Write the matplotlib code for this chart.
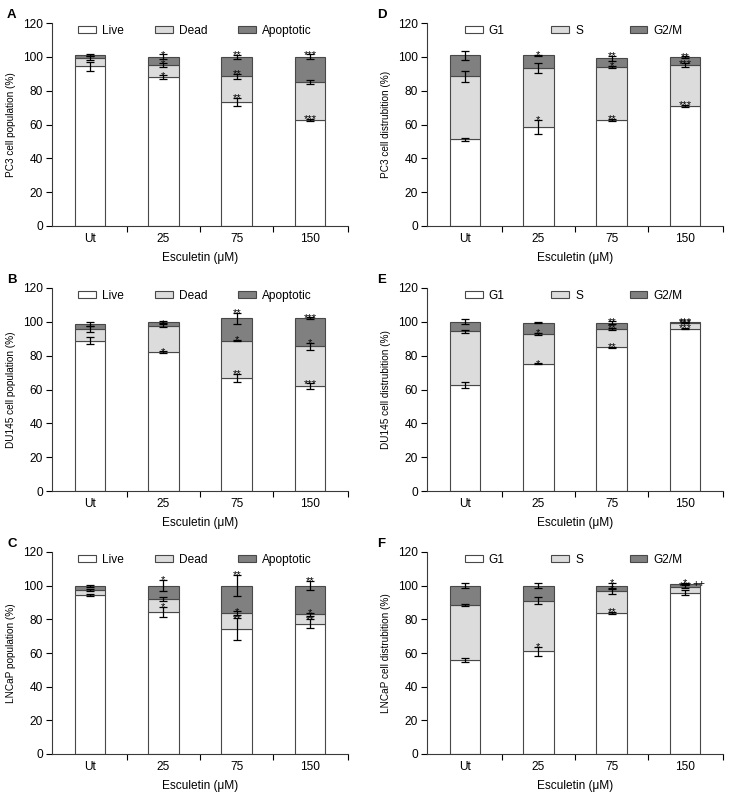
import matplotlib
matplotlib.use('Agg')
import matplotlib.pyplot as plt
import numpy as np

plt.rcParams['font.family'] = ['Liberation Sans', 'DejaVu Sans']
plt.rcParams['font.size'] = 8.6

cats = ['Ut', '25', '75', '150']
pop_labels = ['Live', 'Dead', 'Apoptotic']
cyc_labels = ['G1', 'S', 'G2/M']

# A: PC3 cell population
pc3_live = [94.4, 87.9, 73.4, 62.6]
pc3_dead = [5.0, 7.3, 15.1, 22.7]
pc3_apop = [1.6, 4.8, 11.5, 14.7]
pc3_live_err = [2.8, 1.2, 2.2, 0.6]
pc3_dead_err = [1.2, 1.0, 1.5, 1.3]
pc3_apop_err = [0.8, 1.5, 1.3, 1.4]
pc3_live_sig = ['', '*', '**', '***']
pc3_dead_sig = ['', '*', '**', '']
pc3_apop_sig = ['', '*', '**', '***']

# B: DU145 cell population
du_live = [88.9, 82.1, 66.8, 62.0]
du_dead = [6.9, 15.7, 22.1, 23.5]
du_apop = [3.0, 2.2, 13.1, 16.5]
du_live_err = [2.2, 0.4, 2.3, 1.6]
du_dead_err = [1.8, 1.0, 0.5, 2.0]
du_apop_err = [1.0, 0.5, 3.2, 0.6]
du_live_sig = ['', '*', '**', '***']
du_dead_sig = ['', '*', '*', '*']
du_apop_sig = ['', '', '**', '***']

# C: LNCaP population
ln_live = [94.4, 84.4, 74.1, 77.3]
ln_dead = [3.2, 7.6, 9.6, 5.6]
ln_apop = [2.4, 8.0, 16.3, 17.1]
ln_live_err = [0.6, 3.0, 6.4, 2.7]
ln_dead_err = [0.6, 1.0, 1.0, 1.0]
ln_apop_err = [0.6, 3.3, 6.4, 2.8]
ln_live_sig = ['', '*', '**', '**']
ln_dead_sig = ['', '', '*', '*']
ln_apop_sig = ['', '*', '**', '**']

# D: PC3 cell distribution
pc3_g1 = [51.3, 58.6, 62.6, 71.0]
pc3_s = [37.2, 34.8, 31.4, 24.2]
pc3_g2m = [12.3, 7.4, 5.2, 4.6]
pc3_g1_err = [0.8, 4.2, 0.6, 0.6]
pc3_s_err = [3.2, 3.2, 0.6, 1.0]
pc3_g2m_err = [2.5, 0.5, 1.5, 0.4]
pc3_g1_sig = ['', '*', '**', '***']
pc3_s_sig = ['', '', '*', '***']
pc3_g2m_sig = ['', '*', '**', '**']

# E: DU145 cell distribution
du_g1 = [62.6, 75.1, 84.9, 96.0]
du_s = [31.8, 17.7, 11.1, 3.4]
du_g2m = [5.6, 6.8, 3.6, 0.4]
du_g1_err = [2.0, 0.3, 0.3, 0.3]
du_s_err = [0.8, 0.5, 0.6, 0.3]
du_g2m_err = [1.5, 0.4, 0.6, 0.3]
du_g1_sig = ['', '*', '**', '***']
du_s_sig = ['', '*', '**', '***']
du_g2m_sig = ['', '', '**', '***']

# F: LNCaP cell distribution
ln_g1 = [55.9, 61.1, 83.8, 95.8]
ln_s = [32.8, 29.9, 12.8, 3.6]
ln_g2m = [11.3, 9.0, 3.4, 1.8]
ln_g1_err = [1.0, 2.6, 0.6, 1.5]
ln_s_err = [0.5, 2.0, 1.7, 0.8]
ln_g2m_err = [1.3, 1.4, 1.5, 0.5]
ln_g1_sig = ['', '*', '**', '']
ln_s_sig = ['', '', '*', '***']
ln_g2m_sig = ['', '', '*', '*']

colors = ['white', '#dcdcdc', '#808080']

panels = [
    ('A', 'PC3 cell population (%)', pop_labels,
     [pc3_live, pc3_dead, pc3_apop], [pc3_live_err, pc3_dead_err, pc3_apop_err],
     [pc3_live_sig, pc3_dead_sig, pc3_apop_sig]),
    ('D', 'PC3 cell distrubition (%)', cyc_labels,
     [pc3_g1, pc3_s, pc3_g2m], [pc3_g1_err, pc3_s_err, pc3_g2m_err],
     [pc3_g1_sig, pc3_s_sig, pc3_g2m_sig]),
    ('B', 'DU145 cell population (%)', pop_labels,
     [du_live, du_dead, du_apop], [du_live_err, du_dead_err, du_apop_err],
     [du_live_sig, du_dead_sig, du_apop_sig]),
    ('E', 'DU145 cell distrubition (%)', cyc_labels,
     [du_g1, du_s, du_g2m], [du_g1_err, du_s_err, du_g2m_err],
     [du_g1_sig, du_s_sig, du_g2m_sig]),
    ('C', 'LNCaP population (%)', pop_labels,
     [ln_live, ln_dead, ln_apop], [ln_live_err, ln_dead_err, ln_apop_err],
     [ln_live_sig, ln_dead_sig, ln_apop_sig]),
    ('F', 'LNCaP cell distrubition (%)', cyc_labels,
     [ln_g1, ln_s, ln_g2m], [ln_g1_err, ln_s_err, ln_g2m_err],
     [ln_g1_sig, ln_s_sig, ln_g2m_sig]),
]

W, H = 731, 801
fig = plt.figure(figsize=(W / 100, H / 100), dpi=100)

# axes boxes in pixels: left, top(120), bottom(0)
boxes = [(52, 23, 226), (427, 23, 226),
         (52, 288, 491), (427, 288, 491),
         (52, 552, 754), (427, 552, 754)]
axw = 296

x = np.arange(len(cats))
for i, ((letter, ylabel, labels, segs, errs, sigs), (lft, top, bot)) in enumerate(zip(panels, boxes)):
    right_col = i % 2 == 1
    ax = fig.add_axes([lft / W, (H - bot) / H, axw / W, (bot - top) / H])
    base = np.zeros(len(cats))
    handles = []
    for seg, err, sig, col, lab in zip(segs, errs, sigs, colors, labels):
        seg = np.array(seg)
        b = ax.bar(x, seg, 0.42, bottom=base, color=col, edgecolor='#484848',
                   linewidth=0.8, label=lab, zorder=2)
        handles.append(b)
        tops = base + seg
        ax.errorbar(x, tops, yerr=err, fmt='none', ecolor='black', elinewidth=0.9,
                    capsize=3, capthick=0.9, zorder=3)
        for xi, t, e, s in zip(x, tops, err, sig):
            if s:
                ax.text(xi, t + e - 2.0, s, ha='center', va='baseline',
                        fontsize=8, zorder=4)
        base = tops
    if letter == 'F':
        ax.text(3.1, 99.0, '++', fontsize=8, ha='left', va='baseline')

    ax.set_xlim(-0.518, 3.518)
    ax.set_ylim(0, 120)
    ax.set_yticks(np.arange(0, 121, 20))
    ax.set_xticks(x)
    ax.set_xticklabels(cats)
    ax.set_xticks([0.5, 1.5, 2.5, 3.518], minor=True)
    ax.tick_params(axis='x', which='major', length=0, pad=5)
    ax.tick_params(axis='x', which='minor', length=4, width=0.8, direction='out')
    ax.tick_params(axis='y', length=4, width=0.8, direction='out', pad=2.5)
    for sp in ['top', 'right']:
        ax.spines[sp].set_visible(False)
    for sp in ['left', 'bottom']:
        ax.spines[sp].set_linewidth(0.8)
        ax.spines[sp].set_color('#3a3a3a')
    ax.set_xlabel('Esculetin (\u03bcM)', labelpad=5)
    ax.set_ylabel(ylabel, fontsize=7.2)
    ax.yaxis.set_label_coords(-36 / axw, 0.5)

    if right_col:
        lx, cs = 0.128, 3.9
    else:
        lx, cs = 0.088, 2.6
    ax.legend(handles=handles, labels=labels, ncol=3, frameon=False,
              loc='center left', bbox_to_anchor=(lx, 0.962),
              handlelength=1.5, handleheight=0.6, handletextpad=0.5,
              columnspacing=cs, borderpad=0, borderaxespad=0, fontsize=8.6)

    off = 50 if right_col else 45
    fig.text((lft - off) / W, 1 - (top - 8) / H, letter, fontsize=9.5,
             fontweight='bold', ha='left', va='center')

fig.savefig('out.png', dpi=100)
